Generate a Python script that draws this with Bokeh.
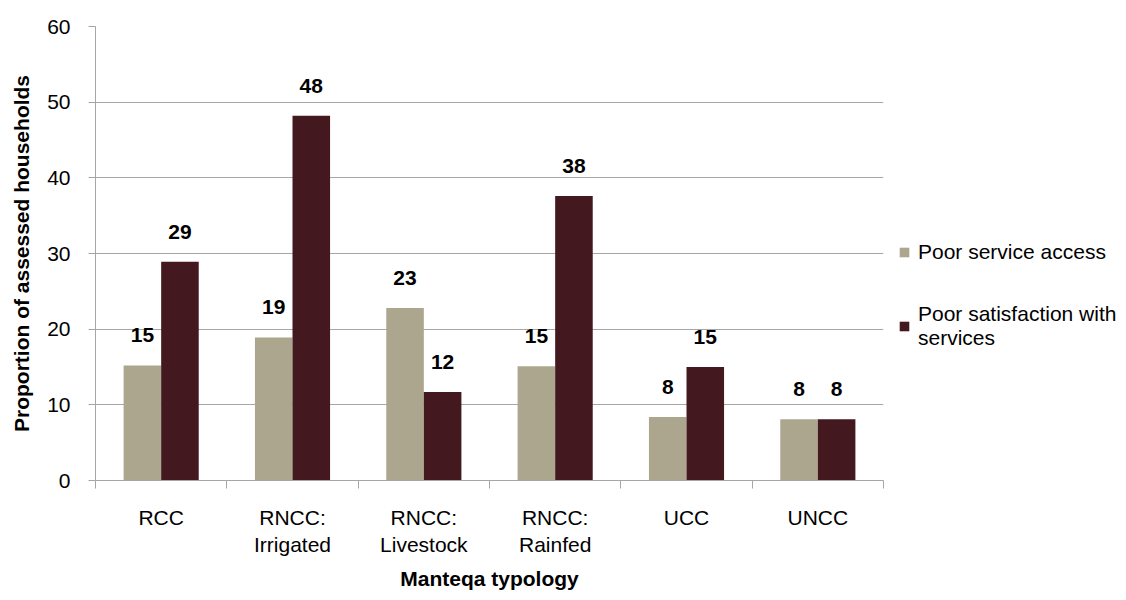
from bokeh.plotting import figure
from bokeh.layouts import row
from bokeh.models import FixedTicker, Legend, LegendItem, ColumnDataSource, LabelSet
from bokeh.core.properties import value
from bokeh.embed import file_html
from bokeh.resources import INLINE

categories = ["RCC", "RNCC:\nIrrigated", "RNCC:\nLivestock", "RNCC:\nRainfed", "UCC", "UNCC"]
poor_access = [15.2, 18.9, 22.8, 15.1, 8.4, 8.1]
poor_satisfaction = [28.9, 48.2, 11.7, 37.6, 15.0, 8.1]
series_names = ["Poor service access", "Poor satisfaction with\nservices"]
series_colors = ["#ADA68E", "#43191F"]
y_ticks = [0, 10, 20, 30, 40, 50, 60]

FONT = "Liberation Sans"
GRAY = "#A6A6A6"

n = len(categories)
centers = [i + 0.5 for i in range(n)]
bw = 0.286

p = figure(width=890, height=600, x_range=(0, n), y_range=(0, 60),
           output_backend="svg", toolbar_location=None,
           min_border_left=95, min_border_right=7, min_border_top=26, min_border_bottom=120)
p.outline_line_color = None
p.xgrid.grid_line_color = None
p.ygrid.grid_line_color = GRAY
p.ygrid.ticker = FixedTicker(ticks=y_ticks)

for k, (vals, col) in enumerate(zip([poor_access, poor_satisfaction], series_colors)):
    off = -bw / 2 if k == 0 else bw / 2
    src = ColumnDataSource(dict(x=[c + off for c in centers], top=vals,
                                lab=[str(int(round(v))) for v in vals]))
    p.vbar(x="x", top="top", width=bw, source=src, fill_color=col, line_color=None)
    ls = LabelSet(x="x", y="top", text="lab", source=src, text_align="center",
                  text_baseline="bottom", y_offset=23, text_font=value(FONT),
                  text_font_size="21px", text_font_style="bold", text_color="#000000")
    p.add_layout(ls)

# y axis
ya = p.yaxis[0]
ya.ticker = FixedTicker(ticks=y_ticks)
ya.axis_line_color = GRAY
ya.major_tick_line_color = GRAY
ya.major_tick_out = 7
ya.major_tick_in = 0
ya.minor_tick_line_color = None
ya.major_label_text_font = FONT
ya.major_label_text_font_size = "21px"
ya.major_label_text_color = "#000000"
ya.major_label_standoff = 18
ya.axis_label = "Proportion of assessed households"
ya.axis_label_text_font = FONT
ya.axis_label_text_font_size = "21px"
ya.axis_label_text_font_style = "bold"
ya.axis_label_text_color = "#000000"
ya.axis_label_standoff = 11

# x axis
xa = p.xaxis[0]
xa.ticker = FixedTicker(ticks=centers, minor_ticks=[float(i) for i in range(n + 1)])
xa.major_label_overrides = {c: lab for c, lab in zip(centers, categories)}
xa.axis_line_color = GRAY
xa.major_tick_line_color = None
xa.major_tick_out = 0
xa.major_tick_in = 0
xa.minor_tick_line_color = GRAY
xa.minor_tick_out = 8
xa.minor_tick_in = 0
xa.major_label_text_font = FONT
xa.major_label_text_font_size = "21px"
xa.major_label_text_color = "#000000"
xa.major_label_standoff = 17
xa.axis_label = "Manteqa typology"
xa.axis_label_text_font = FONT
xa.axis_label_text_font_size = "21px"
xa.axis_label_text_font_style = "bold"
xa.axis_label_text_color = "#000000"
xa.axis_label_standoff = 8

# legend panel (swatches only, zero-height bars)
pl = figure(width=236, height=600, x_range=(0, 1), y_range=(0, 1),
            output_backend="svg", toolbar_location=None,
            x_axis_location=None, y_axis_location=None,
            min_border_left=0, min_border_right=0, min_border_top=0, min_border_bottom=0)
pl.outline_line_color = None
pl.grid.visible = False
swatches = [pl.vbar(x=[0], top=[0], width=0, fill_color=c, line_color=None) for c in series_colors]
legend = Legend(items=[LegendItem(label=series_names[i], renderers=[swatches[i]]) for i in range(2)],
                location=(8, 130), orientation="vertical",
                label_text_font=FONT, label_text_font_size="21px", label_text_color="#000000",
                glyph_width=12, glyph_height=12, label_standoff=8, spacing=38,
                border_line_color=None, background_fill_alpha=0, padding=0, margin=0)
pl.add_layout(legend, "center")

layout = row(p, pl, spacing=0)
open("out.html", "w").write(file_html(layout, INLINE))
